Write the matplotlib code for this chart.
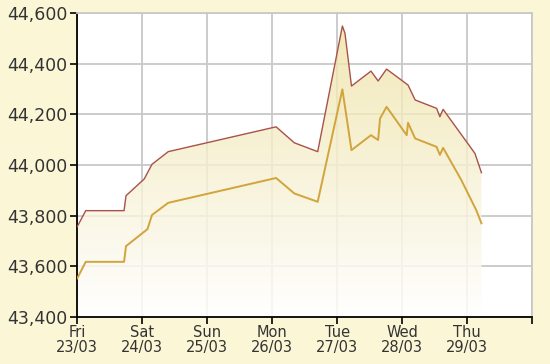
import numpy as np
import matplotlib.pyplot as plt
from matplotlib.colors import LinearSegmentedColormap

# x positions in days since Fri 23/03 00:00
upper_x = [0.0, 0.13, 0.72, 0.75, 1.03, 1.15, 1.40, 3.06, 3.34, 3.70, 4.08, 4.12,
           4.22, 4.52, 4.63, 4.76, 5.09, 5.20, 5.53, 5.58, 5.63, 6.12, 6.22]
upper_y = [43757, 43820, 43820, 43879, 43945, 44003, 44053, 44151, 44088, 44053, 44549, 44520,
           44312, 44371, 44332, 44379, 44316, 44257, 44224, 44191, 44220, 44046, 43970]

lower_x = [0.0, 0.13, 0.72, 0.75, 1.08, 1.15, 1.40, 3.06, 3.34, 3.70, 4.08, 4.22,
           4.52, 4.63, 4.66, 4.76, 5.07, 5.09, 5.20, 5.53, 5.58, 5.63, 5.91, 6.14, 6.22]
lower_y = [43553, 43618, 43618, 43680, 43747, 43803, 43851, 43949, 43888, 43855, 44299, 44059,
           44118, 44099, 44184, 44230, 44118, 44167, 44105, 44072, 44040, 44068, 43941, 43822, 43770]

day_labels = ['Fri\n23/03', 'Sat\n24/03', 'Sun\n25/03', 'Mon\n26/03',
              'Tue\n27/03', 'Wed\n28/03', 'Thu\n29/03', '']

fig = plt.figure(figsize=(5.5, 3.64), dpi=100)
fig.patch.set_facecolor('#FBF7D6')
ax = fig.add_axes([0.1405, 0.129, 0.827, 0.835])
ax.set_facecolor('white')

ymin, ymax = 43400, 44600
grad = LinearSegmentedColormap.from_list('g', ['#FFFFFF', '#EEE2A2'])
img = np.linspace(0, 1, 256).reshape(-1, 1)

for xs, ys, alpha in [(upper_x, upper_y, 0.8), (lower_x, lower_y, 0.3)]:
    poly = ax.fill_between(xs, ys, ymin, color='none', lw=0)
    im = ax.imshow(img, cmap=grad, origin='lower', aspect='auto', alpha=alpha,
                   extent=[0, 7, ymin, ymax], zorder=1)
    im.set_clip_path(poly.get_paths()[0], transform=ax.transData)

ax.plot(upper_x, upper_y, color='#A8524C', lw=1.0, zorder=3)
ax.plot(lower_x, lower_y, color='#D1A43C', lw=1.4, zorder=3)

ax.set_xlim(0, 7)
ax.set_ylim(ymin, ymax)
ax.set_xticks(range(8))
ax.set_xticklabels(day_labels, fontsize=10.5, color='#333333', linespacing=1.0)
ax.set_yticks(range(43400, 44601, 200))
ax.set_yticklabels([f'{v:,}' for v in range(43400, 44601, 200)], fontsize=12.5, color='#333333')
ax.grid(True, color='#C8C8C8', lw=1.3, zorder=0)
ax.set_axisbelow(True)
ax.tick_params(axis='both', direction='out', length=5, width=1.2, color='black', pad=2)
ax.tick_params(axis='x', pad=1)

for s in ['top', 'right']:
    ax.spines[s].set_color('#C8C8C8')
    ax.spines[s].set_linewidth(1.3)
for s in ['left', 'bottom']:
    ax.spines[s].set_color('black')
    ax.spines[s].set_linewidth(1.3)

fig.savefig('out.png', dpi=100, facecolor=fig.get_facecolor())
